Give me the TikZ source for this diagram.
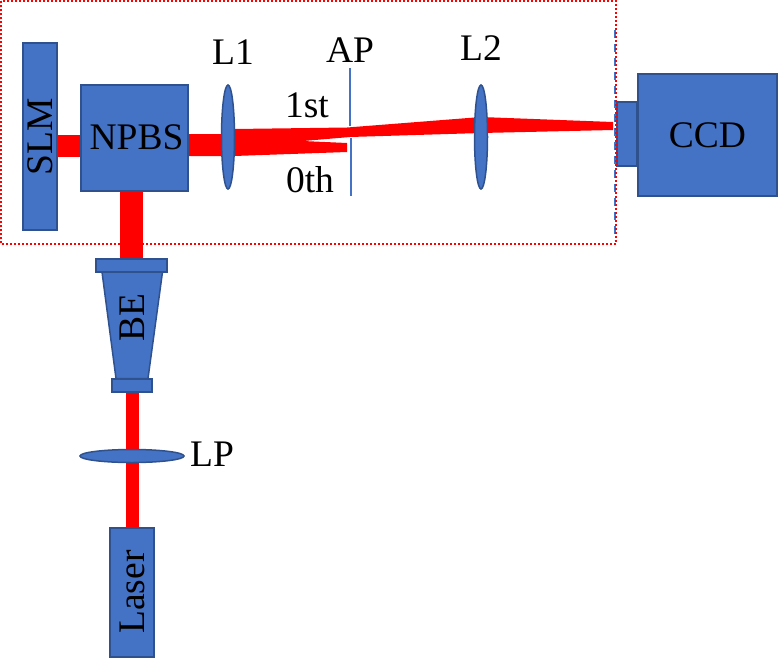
\documentclass[tikz,border=0pt]{standalone}
\usepackage{fontspec}
\setmainfont{Liberation Serif}
\usetikzlibrary{backgrounds,shapes.geometric}
\definecolor{partblue}{HTML}{4472C4}
\definecolor{partedge}{HTML}{2F528F}
\begin{document}
\begin{tikzpicture}[x=1pt,y=-1pt,
        part/.style={draw=partedge,fill=partblue,line width=2pt,inner sep=0pt,
            font=\fontsize{37.5}{40}\selectfont},
        lens/.style={ellipse,draw=partedge,fill=partblue,line width=1.5pt,inner sep=0pt},
        beam/.style={draw=none,fill=red},
        tag/.style={inner sep=0pt,font=\fontsize{37.5}{40}\selectfont}]
\useasboundingbox (0,0) rectangle (779,657);

% camera and frame
\node[part,minimum width=20pt,minimum height=64pt] (ccdfront) at (627,134) {};
\node[part,minimum width=139pt,minimum height=122pt] (ccd) at (707.5,135) {CCD};
\coordinate (planetop) at (615,30);
\coordinate (planebot) at (615,240);
\draw[partblue,line width=2.2pt,dash pattern=on 8pt off 6pt] (planetop) -- (planebot);
\draw[red,line width=2pt,dash pattern=on 2pt off 2pt] (1,1) rectangle (616,244);

% optics
\node[part,minimum width=34pt,minimum height=187pt] (slm) at (40,136.5) {\rotatebox{90}{SLM}};
\node[part,minimum width=107pt,minimum height=106pt] (npbs) at (134.5,138) {};
\node[tag] (npbstext) at (136.5,137) {NPBS};
\node[lens,minimum width=13pt,minimum height=104pt] (lone) at (228,137) {};
\node[lens,minimum width=13pt,minimum height=104pt] (ltwo) at (481,137) {};
\node[part,minimum width=71pt,minimum height=13pt] (betop) at (131.5,265) {};
\filldraw[draw=partedge,fill=partblue,line width=1.5pt] (102,272) -- (162.5,272) -- (148,378.5)
    -- (116,378.5) -- cycle;
\node[tag,rotate=90] (be) at (132,318) {BE};
\node[part,minimum width=40pt,minimum height=13pt] (bebot) at (132,385.5) {};
\node[lens,minimum width=104pt,minimum height=13pt] (lp) at (132,456) {};
\node[part,minimum width=44pt,minimum height=129pt] (laser) at (132,592) {\rotatebox{90}{Laser}};

% aperture
\coordinate (apa) at (350,68);
\coordinate (apb) at (350,126);
\coordinate (apc) at (351,138);
\coordinate (apd) at (351,196);
\draw[partblue,line width=1.5pt] (apa) -- (apb);
\draw[partblue,line width=1.5pt] (apc) -- (apd);

% labels
\node[tag] (labelone) at (233,52) {L1};
\node[tag] (labelap) at (350,50) {AP};
\node[tag] (labeltwo) at (481,48) {L2};
\node[tag] (first) at (307,105) {1st};
\node[tag] (zeroth) at (310,180) {0th};
\node[tag] (labellp) at (212,454) {LP};

% beams
\begin{pgfonlayer}{background}
\coordinate (army) at (0,146);
\coordinate (lowx) at (132.5,0);
\draw[red,line width=22pt] (slm.east |- army) -- (npbs.west |- army);
\draw[red,line width=13pt] (lowx |- bebot.south) -- (lowx |- laser.north);
\fill[beam] (npbs.east |- 0,134) -- (lone.center |- 0,134) -- (234,129) -- (347,127.5) -- (ltwo.center |- 0,117)
    -- (613,122) -- (613,130) -- (ltwo.center |- 0,133) -- (350,137) -- (303,141) -- (347,143)
    -- (347,152) -- (234,156) -- (npbs.east |- 0,156) -- cycle;
\end{pgfonlayer}
\draw[red,line width=23pt] (npbs.south -| 131.5,0) -- (betop.north -| 131.5,0);
\end{tikzpicture}
\end{document}
